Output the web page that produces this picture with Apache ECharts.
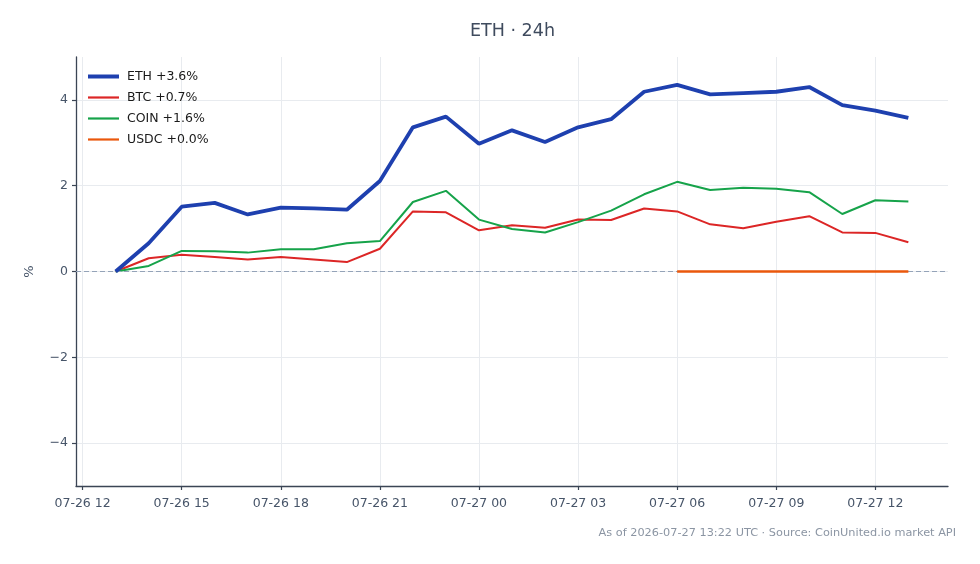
<!DOCTYPE html>
<html>
<head>
<meta charset="utf-8">
<script src="https://cdn.jsdelivr.net/npm/echarts@6/dist/echarts.min.js"></script>
<style>
  html, body { margin: 0; padding: 0; background: #fff; }
  #main { width: 980px; height: 564px; }
</style>
</head>
<body>
<div id="main"></div>
<script>
// hourly points, UTC
var times = [
  '2026-07-26T13:00Z', '2026-07-26T14:00Z', '2026-07-26T15:00Z', '2026-07-26T16:00Z',
  '2026-07-26T17:00Z', '2026-07-26T18:00Z', '2026-07-26T19:00Z', '2026-07-26T20:00Z',
  '2026-07-26T21:00Z', '2026-07-26T22:00Z', '2026-07-26T23:00Z', '2026-07-27T00:00Z',
  '2026-07-27T01:00Z', '2026-07-27T02:00Z', '2026-07-27T03:00Z', '2026-07-27T04:00Z',
  '2026-07-27T05:00Z', '2026-07-27T06:00Z', '2026-07-27T07:00Z', '2026-07-27T08:00Z',
  '2026-07-27T09:00Z', '2026-07-27T10:00Z', '2026-07-27T11:00Z', '2026-07-27T12:00Z',
  '2026-07-27T13:00Z'
];
var ethVals = [0, 0.66, 1.51, 1.60, 1.33, 1.49, 1.47, 1.44, 2.11, 3.36, 3.61, 2.98, 3.29,
  3.02, 3.36, 3.55, 4.19, 4.35, 4.13, 4.16, 4.19, 4.30, 3.88, 3.75, 3.58];
var btcVals = [0, 0.31, 0.39, 0.34, 0.28, 0.34, 0.28, 0.22, 0.53, 1.40, 1.38, 0.96, 1.08,
  1.02, 1.21, 1.20, 1.47, 1.40, 1.10, 1.01, 1.16, 1.29, 0.91, 0.90, 0.68];
var coinVals = [0, 0.13, 0.48, 0.47, 0.44, 0.52, 0.52, 0.66, 0.71, 1.62, 1.88, 1.21, 0.99,
  0.91, 1.15, 1.42, 1.80, 2.09, 1.90, 1.95, 1.93, 1.85, 1.34, 1.66, 1.63];
var usdcVals = [null, null, null, null, null, null, null, null, null, null, null, null, null,
  null, null, null, null, 0, 0, 0, 0, 0, 0, 0, 0];
var seriesNames = ['ETH +3.6%', 'BTC +0.7%', 'COIN +1.6%', 'USDC +0.0%'];
var xTicks = ['2026-07-26T12:00Z', '2026-07-26T15:00Z', '2026-07-26T18:00Z', '2026-07-26T21:00Z',
  '2026-07-27T00:00Z', '2026-07-27T03:00Z', '2026-07-27T06:00Z', '2026-07-27T09:00Z',
  '2026-07-27T12:00Z'];
var yTicks = [-4, -2, 0, 2, 4];

var ms = times.map(function (t) { return Date.parse(t); });
var xTickMs = xTicks.map(function (t) { return Date.parse(t); });
var span = ms[ms.length - 1] - ms[0];
var xMin = ms[0] - span * 0.05;
var xMax = ms[ms.length - 1] + span * 0.05;

function pairs(vals) {
  return vals.map(function (v, i) { return [ms[i], v]; });
}
function pad(n) { return n < 10 ? '0' + n : '' + n; }

var textColor = '#475569';
var axisColor = '#3b4555';
var colors = ['#1e40af', '#dc2626', '#16a34a', '#ea580c'];
var widths = [3.8, 2, 2, 2.5];

var myChart = echarts.init(document.getElementById('main'));
var option = {
  animation: false,
  backgroundColor: '#ffffff',
  textStyle: { fontFamily: 'DejaVu Sans' },
  legend: {
    orient: 'vertical',
    left: 86,
    top: 70,
    padding: 0,
    itemWidth: 31,
    itemHeight: 14,
    itemGap: 8,
    itemStyle: { opacity: 0 },
    textStyle: { fontSize: 12.5, color: '#1a1a1a', fontFamily: 'DejaVu Sans', padding: [0, 0, 0, 3] },
    data: seriesNames.map(function (n, i) {
      return { name: n, lineStyle: { width: i === 0 ? 4 : 2.2, color: colors[i] } };
    })
  },
  grid: { left: 76, right: 32, top: 57, bottom: 78 },
  xAxis: {
    type: 'value',
    min: xMin,
    max: xMax,
    axisLine: { show: true, onZero: false, lineStyle: { color: axisColor, width: 1.3 } },
    axisTick: { show: true, length: 4, customValues: xTickMs, lineStyle: { color: axisColor, width: 1.2 } },
    axisLabel: {
      customValues: xTickMs,
      color: textColor,
      fontSize: 12.5,
      margin: 11,
      formatter: function (v) {
        var d = new Date(v);
        return pad(d.getUTCMonth() + 1) + '-' + pad(d.getUTCDate()) + ' ' + pad(d.getUTCHours());
      }
    },
    splitLine: { show: true, lineStyle: { color: '#e8ebef', width: 1 } }
  },
  yAxis: {
    type: 'value',
    min: -5,
    max: 5,
    name: '%',
    nameLocation: 'middle',
    nameGap: 40,
    nameTextStyle: { color: textColor, fontSize: 13 },
    axisLine: { show: true, onZero: false, lineStyle: { color: axisColor, width: 1.3 } },
    axisTick: { show: true, length: 4, customValues: yTicks, lineStyle: { color: axisColor, width: 1.2 } },
    axisLabel: {
      customValues: yTicks,
      color: textColor,
      fontSize: 12.5,
      margin: 8,
      formatter: function (v) { return String(v).replace('-', '\u2212'); }
    },
    splitLine: { show: true, lineStyle: { color: '#e8ebef', width: 1 } }
  },
  series: [
    {
      // zero reference line, kept under the data lines
      type: 'line', data: [], z: 1, silent: true,
      markLine: {
        silent: true, symbol: 'none', label: { show: false },
        lineStyle: { color: '#94a3b8', type: [5, 3], width: 1 },
        data: [{ yAxis: 0 }]
      }
    }
  ].concat([ethVals, btcVals, coinVals, usdcVals].map(function (vals, i) {
    return {
      name: seriesNames[i], type: 'line', data: pairs(vals), symbol: 'none',
      z: i === 0 ? 5 : (i === 3 ? 6 : 4),
      lineStyle: { color: colors[i], width: widths[i] },
      itemStyle: { color: colors[i] }
    };
  })),
  graphic: [
    {
      type: 'text',
      x: 512.5,
      y: 31,
      style: {
        text: 'ETH · 24h',
        align: 'center',
        verticalAlign: 'middle',
        fill: '#3f4b5e',
        fontSize: 17.5,
        fontFamily: 'DejaVu Sans'
      }
    },
    {
      type: 'text',
      right: 24,
      top: 528,
      style: {
        text: 'As of 2026-07-27 13:22 UTC · Source: CoinUnited.io market API',
        fill: '#8b95a3',
        fontSize: 11.3,
        fontFamily: 'DejaVu Sans'
      }
    }
  ]
};
myChart.setOption(option);
</script>
</body>
</html>
